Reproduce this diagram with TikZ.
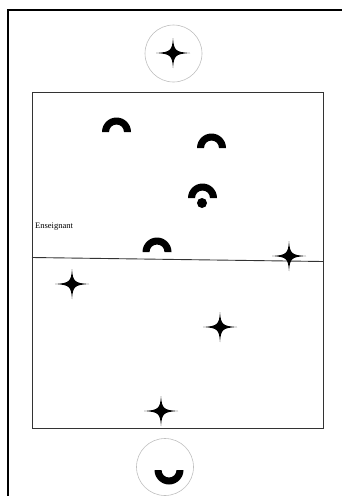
\documentclass[tikz,border=0pt]{standalone}
\usepackage{fontspec}
\setmainfont{Liberation Serif}
\tikzset{
  etoile/.pic={\fill[black] (17,0) .. controls (2.5,0.9) and (0.9,2.5) .. (0,15)
      .. controls (-0.9,2.5) and (-2.5,0.9) .. (-17,0)
      .. controls (-2.5,-0.9) and (-0.9,-2.5) .. (0,-15)
      .. controls (0.9,-2.5) and (2.5,-0.9) .. cycle;},
  bosse/.pic={\fill[black] (-14.5,0) arc [start angle=180, end angle=360, radius=14.5]
      -- (7.5,0) arc [start angle=0, end angle=-180, radius=7.5] -- cycle;},
  creux/.pic={\fill[black] (-14.5,0) arc [start angle=180, end angle=0, radius=14.5]
      -- (7.5,0) arc [start angle=0, end angle=180, radius=7.5] -- cycle;},
  cercle/.style={draw=black!25, line width=0.6pt}
}
\begin{document}
\begin{tikzpicture}[x=1pt, y=-1pt]
\useasboundingbox (0,0) rectangle (342,496);
% cadre
\draw[line width=1.3pt] (8,496) -- (8,10) -- (342,10);
% terrain
\draw[black!80, line width=0.9pt] (32,92) rectangle (323,428);
\draw[black!80, line width=0.9pt] (32,257.5) -- (323,261.5);
\node[anchor=west, inner sep=0pt, font=\fontsize{8.5}{10}\selectfont] (ens) at (35,227) {Enseignant};
% cercles
\draw[cercle] (173.5,53.5) circle (28.5);
\draw[cercle] (165,467) circle (28.5);
\pic at (173,53) {etoile};
\pic at (169,470) {creux};
% bosses
\pic at (116.5,132) {bosse};
\pic at (211.5,148) {bosse};
\pic at (202.5,198) {bosse};
\fill (202,203) circle (5);
\pic at (157,252) {bosse};
% etoiles
\pic at (289,256) {etoile};
\pic at (72,284) {etoile};
\pic at (220,327) {etoile};
\pic at (161,411) {etoile};
\end{tikzpicture}
\end{document}
